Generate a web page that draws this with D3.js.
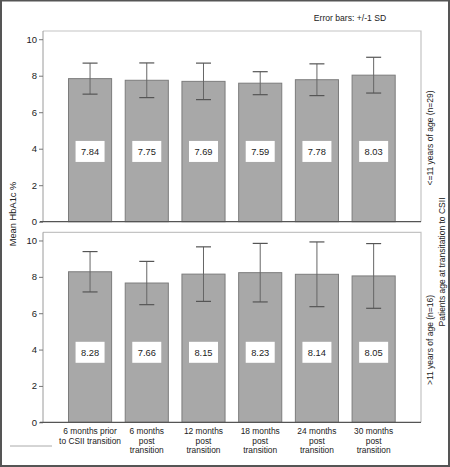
<!DOCTYPE html>
<html><head><meta charset="utf-8">
<script src="https://cdn.jsdelivr.net/npm/d3@7"></script>
<style>body{margin:0;background:#fff;}svg{display:block;font-family:"Liberation Sans",Arial,sans-serif;}</style>
</head><body>
<script>
const categories = [["6 months prior","to CSII transition"],["6 months","post","transition"],["12 months","post","transition"],["18 months","post","transition"],["24 months","post","transition"],["30 months","post","transition"]];
const panelLabels = ["<=11 years of age (n=29)", ">11 years of age (n=16)"];
const meansYoung = [7.84, 7.75, 7.69, 7.59, 7.78, 8.03];
const sdYoung = [0.85, 0.95, 1.0, 0.63, 0.87, 0.98];
const meansOld = [8.28, 7.66, 8.15, 8.23, 8.14, 8.05];
const sdOld = [1.11, 1.19, 1.5, 1.61, 1.78, 1.78];
const yTicks = [0, 2, 4, 6, 8, 10];

const W = 450, H = 467;
const svg = d3.select("body").append("svg").attr("width", W).attr("height", H);

// outer frame
svg.append("rect").attr("x",1).attr("y",0.5).attr("width",W-2).attr("height",H-1.5)
  .attr("fill","none").attr("stroke","#555").attr("stroke-width",2);

const x = d3.scaleBand().domain(d3.range(6)).range([61.7, 402]).paddingInner(0.24).paddingOuter(0.12);

const panels = [
  {means: meansYoung, sd: sdYoung, top: 31, zero: 221.7, label: panelLabels[0], labelY: 138},
  {means: meansOld, sd: sdOld, top: 232.3, zero: 422.3, label: panelLabels[1], labelY: 340}
];
const left = 43, right = 421;

panels.forEach(p => {
  const y = d3.scaleLinear().domain([0, 10]).range([p.zero, p.zero - 10*(p.zero - p.top)/10.45]);
  const g = svg.append("g");
  g.append("path").attr("d", `M${left},${p.top}H${right}V${p.zero}`)
    .attr("fill","none").attr("stroke","#c4c4c4").attr("stroke-width",1.2);
  const ax = g.append("g").attr("transform", `translate(${left},0)`)
    .call(d3.axisLeft(y).tickValues(yTicks).tickSize(4).tickPadding(2));
  ax.select(".domain").attr("stroke","#9a9a9a").attr("d", `M0,${p.top}V${p.zero}`);
  ax.selectAll(".tick line").attr("stroke","#777");
  ax.selectAll(".tick text").attr("font-size", 9.5).attr("fill","#222")
    .attr("font-family","Liberation Sans, Arial, sans-serif");
  g.selectAll("rect.bar").data(p.means).join("rect").attr("class","bar")
    .attr("x",(d,i)=>x(i)).attr("width",x.bandwidth())
    .attr("y",d=>y(d)).attr("height",d=>y(0)-y(d))
    .attr("fill","#a8a8a8").attr("stroke","#7c7c7c").attr("stroke-width",1);
  g.append("line").attr("x1",left-3).attr("x2",right).attr("y1",y(0)).attr("y2",y(0))
    .attr("stroke","#555").attr("stroke-width",1.3);
  const cap = 7.5;
  p.means.forEach((m,i) => {
    const cx = x(i) + x.bandwidth()/2;
    const hi = y(m + p.sd[i]), lo = y(m - p.sd[i]);
    g.append("line").attr("x1",cx).attr("x2",cx).attr("y1",hi).attr("y2",lo).attr("stroke","#666").attr("stroke-width",1);
    g.append("line").attr("x1",cx-cap).attr("x2",cx+cap).attr("y1",hi).attr("y2",hi).attr("stroke","#555").attr("stroke-width",1.2);
    g.append("line").attr("x1",cx-cap).attr("x2",cx+cap).attr("y1",lo).attr("y2",lo).attr("stroke","#555").attr("stroke-width",1.2);
    const by = y(3.85);
    g.append("rect").attr("x",cx-14.5).attr("y",by-10.5).attr("width",29).attr("height",21).attr("fill","#fff");
    g.append("text").attr("x",cx).attr("y",by).attr("dy","0.35em").attr("text-anchor","middle")
      .attr("font-size",9.3).attr("fill","#222").text(m.toFixed(2));
  });
  svg.append("text").attr("transform",`translate(433,${p.labelY}) rotate(-90)`).attr("text-anchor","middle")
    .attr("font-size",8.5).attr("fill","#222").text(p.label);
});

categories.forEach((lines,i) => {
  const cx = x(i) + x.bandwidth()/2;
  const t = svg.append("text").attr("text-anchor","middle").attr("font-size",8.4).attr("fill","#222");
  lines.forEach((l,k) => t.append("tspan").attr("x",cx).attr("y",434 + k*9.6).text(l));
});

svg.append("text").attr("transform","translate(16,214) rotate(-90)").attr("text-anchor","middle")
  .attr("font-size",9.3).attr("fill","#222").text("Mean HbA1c %");
svg.append("text").attr("transform","translate(445,262) rotate(-90)").attr("text-anchor","middle")
  .attr("font-size",8.5).attr("fill","#222").text("Patients age at transitation to CSII");
svg.append("text").attr("x",350).attr("y",21).attr("text-anchor","middle")
  .attr("font-size",8.6).attr("fill","#222").text("Error bars: +/-1 SD");

svg.append("line").attr("x1",10).attr("x2",52).attr("y1",446).attr("y2",446).attr("stroke","#aaa").attr("stroke-width",1);
</script>
</body></html>
